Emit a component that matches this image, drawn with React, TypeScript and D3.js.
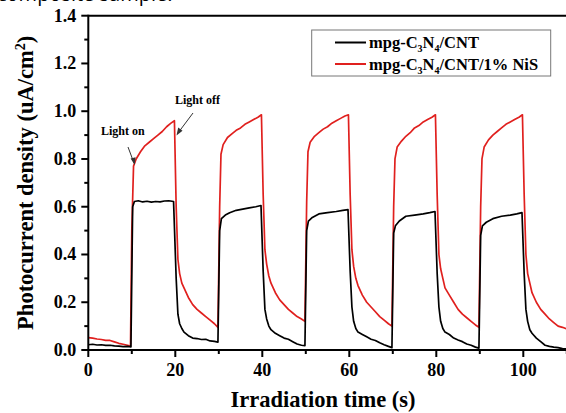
import React from "react";
import * as d3 from "d3";

const xTicks = [0, 20, 40, 60, 80, 100];
const xMinor = [10, 30, 50, 70, 90, 110];
const yTicks = [0, 0.2, 0.4, 0.6, 0.8, 1.0, 1.2, 1.4];
const yMinor = [0.1, 0.3, 0.5, 0.7, 0.9, 1.1, 1.3];

const blackTime = [0,1,2,3,4,5,6,7,8,9,9.8,
  10.2,10.6,11.5,12.5,13.5,14.5,15.5,16.5,17.5,18.5,19.6,
  20.2,20.6,21,21.5,22,23,24,25,26,27,28,29,29.8,
  30.2,30.6,31.5,32.5,34,35.5,37,38.5,39.7,
  40.2,40.6,41,41.5,42,43,44,45,46,47,48,49,49.8,
  50.2,50.6,51.5,53,55,57,58.5,59.7,
  60.2,60.6,61,61.5,62,63,64,65,66,67,68,69,69.8,
  70.2,70.6,71.5,73,75,77,78.5,79.7,
  80.2,80.6,81,81.5,82,83,84,85,86,87,88,89,89.8,
  90.2,90.6,91.5,93,95,97,98.5,99.7,
  100.2,100.6,101,101.5,102,103,104,105,106,107,108,109,110];
const blackValue = [0.022,0.024,0.021,0.022,0.019,0.02,0.017,0.016,0.014,0.015,0.013,
  0.60,0.622,0.625,0.62,0.623,0.619,0.622,0.62,0.624,0.625,0.622,
  0.30,0.15,0.11,0.09,0.075,0.06,0.05,0.048,0.044,0.045,0.038,0.036,0.033,
  0.50,0.55,0.565,0.575,0.585,0.59,0.595,0.6,0.605,
  0.33,0.17,0.13,0.1,0.085,0.07,0.06,0.05,0.045,0.035,0.025,0.02,0.018,
  0.5,0.54,0.555,0.57,0.575,0.58,0.585,0.588,
  0.33,0.18,0.12,0.09,0.075,0.065,0.055,0.045,0.04,0.03,0.022,0.015,0.01,
  0.49,0.52,0.54,0.56,0.565,0.57,0.575,0.58,
  0.32,0.18,0.12,0.09,0.075,0.065,0.05,0.042,0.035,0.025,0.02,0.012,0.008,
  0.48,0.52,0.535,0.55,0.56,0.565,0.57,0.575,
  0.32,0.17,0.12,0.085,0.07,0.05,0.035,0.02,0.015,0.012,0.01,0.006,0.004];

const redTime = [0,1,2,3,4,5,6,7,8,9,9.7,
  10,10.4,11,12,13,14,15,16,17,18,19,19.8,
  20.2,20.6,21,21.5,22,23,24,25,26,27,28,29,29.8,
  30.2,30.5,31,32,33,34,35,36,37,38,39,39.8,
  40.2,40.6,41,41.5,42,43,44,45,46,47,48,49,49.8,
  50.2,50.5,51,52,53,54,55,56,57,58,59,59.8,
  60.2,60.6,61,61.5,62,63,64,65,66,67,68,69,69.8,
  70.2,70.5,71,72,73,74,75,76,77,78,79,79.8,
  80.2,80.6,81,81.5,82,83,84,85,86,87,88,89,89.8,
  90.2,90.5,91,92,93,94,95,96,97,98,99,99.8,
  100.2,100.6,101,101.5,102,103,104,105,106,107,108,109,110];
const redValue = [0.052,0.05,0.046,0.044,0.04,0.04,0.034,0.028,0.024,0.02,0.016,
  0.5,0.77,0.80,0.83,0.855,0.87,0.885,0.9,0.915,0.935,0.95,0.96,
  0.6,0.38,0.32,0.28,0.26,0.22,0.19,0.17,0.155,0.14,0.125,0.11,0.095,
  0.6,0.82,0.86,0.89,0.905,0.92,0.93,0.945,0.955,0.965,0.975,0.985,
  0.65,0.42,0.36,0.31,0.28,0.24,0.21,0.19,0.17,0.155,0.14,0.13,0.12,
  0.62,0.83,0.87,0.895,0.91,0.925,0.935,0.95,0.96,0.97,0.98,0.985,
  0.65,0.42,0.35,0.3,0.27,0.23,0.2,0.18,0.16,0.14,0.125,0.11,0.1,
  0.6,0.8,0.85,0.875,0.895,0.91,0.93,0.94,0.955,0.965,0.975,0.985,
  0.65,0.4,0.34,0.3,0.26,0.23,0.2,0.17,0.15,0.135,0.12,0.105,0.095,
  0.6,0.8,0.85,0.88,0.9,0.915,0.93,0.945,0.955,0.965,0.975,0.985,
  0.65,0.4,0.32,0.28,0.24,0.2,0.17,0.15,0.13,0.115,0.1,0.095,0.088];

const RED = "#e0201e";
const SERIF = "'Liberation Serif', 'Times New Roman', serif";

export default function App() {
  const W = 566, H = 413;
  const x = d3.scaleLinear().domain([0, 110]).range([88.3, 566.8]);
  const y = d3.scaleLinear().domain([0, 1.4]).range([350, 15.7]);
  const line = d3.line<[number, number]>().x(d => x(d[0])).y(d => y(d[1]));
  const blackPts = blackTime.map((t, i) => [t, blackValue[i]] as [number, number]);
  const redPts = redTime.map((t, i) => [t, redValue[i]] as [number, number]);
  const x0 = x(0), y0 = y(0);

  return (
    <svg width={W} height={H} style={{ position: "absolute", left: 0, top: 0, background: "#fff" }}
      fontFamily={SERIF}>
      <rect width={W} height={H} fill="#fff" />
      <text x={-3} y={1} fontFamily="'Open Sans', sans-serif" fontSize={20} fill="#000">composite sample.</text>
      <defs>
        <clipPath id="plot"><rect x={x0} y={y(1.4)} width={x(110) - x0} height={y0 - y(1.4)} /></clipPath>
      </defs>
      <g clipPath="url(#plot)" fill="none" strokeLinejoin="round">
        <path d={line(redPts) || ""} stroke={RED} strokeWidth={1.7} />
        <path d={line(blackPts) || ""} stroke="#000" strokeWidth={1.7} />
      </g>
      <line x1={x0} x2={x(110) + 2} y1={y(1.4)} y2={y(1.4)} stroke="#000" strokeWidth={2} />
      <line x1={x0} x2={x(110) + 2} y1={y0} y2={y0} stroke="#000" strokeWidth={2} />
      <line x1={x0} x2={x0} y1={y(1.4) - 1} y2={y0 + 1} stroke="#000" strokeWidth={2} />
      {xTicks.map(t => (
        <g key={"xt" + t}>
          <line x1={x(t)} x2={x(t)} y1={y0} y2={y0 + 7} stroke="#000" strokeWidth={2} />
          <text x={x(t)} y={y0 + 26} textAnchor="middle" fontSize={18} fontWeight="bold">{t}</text>
        </g>
      ))}
      {xMinor.map(t => (
        <line key={"xm" + t} x1={x(t)} x2={x(t)} y1={y0} y2={y0 + 4} stroke="#000" strokeWidth={2} />
      ))}
      {yTicks.map(t => (
        <g key={"yt" + t}>
          <line x1={x0 - 7} x2={x0} y1={y(t)} y2={y(t)} stroke="#000" strokeWidth={2} />
          <text x={x0 - 12} y={y(t) + 6} textAnchor="end" fontSize={18} fontWeight="bold">{t.toFixed(1)}</text>
        </g>
      ))}
      {yMinor.map(t => (
        <line key={"ym" + t} x1={x0 - 4} x2={x0} y1={y(t)} y2={y(t)} stroke="#000" strokeWidth={2} />
      ))}
      <text x={323} y={407} textAnchor="middle" fontSize={22.5} fontWeight="bold">Irradiation time (s)</text>
      <text transform={`translate(33,${(y0 + y(1.4)) / 2}) rotate(-90)`} textAnchor="middle" fontSize={22.5} fontWeight="bold">
        Photocurrent density (uA/cm<tspan dy={-8} fontSize={14}>2</tspan><tspan dy={8}>)</tspan>
      </text>
      <text x={101} y={135} fontSize={12} fontWeight="bold">Light on</text>
      <line x1={128} y1={147} x2={134} y2={163} stroke="#333" strokeWidth={1} />
      <path d="M134.8,165 L130.6,158.4 L135.6,157.2 Z" fill="#333" />
      <text x={175} y={104} fontSize={12} fontWeight="bold">Light off</text>
      <line x1={193} y1={113} x2={178} y2={133} stroke="#333" strokeWidth={1} />
      <path d="M176.5,135.5 L178.2,127.5 L182.5,130.8 Z" fill="#333" />
      <rect x={311.7} y={30} width={239} height={46} fill="#fff" stroke="#777" strokeWidth={1} />
      {[0, 1].map(i => (
        <g key={"lg" + i}>
          <line x1={335} x2={366} y1={42.5 + i * 21.5} y2={42.5 + i * 21.5} stroke={i === 0 ? "#000" : RED} strokeWidth={2} />
          <text x={369} y={48 + i * 21.5} fontSize={16.5} fontWeight="bold">
            mpg-C<tspan dy={4} fontSize={10}>3</tspan><tspan dy={-4}>N</tspan><tspan dy={4} fontSize={10}>4</tspan><tspan dy={-4}>{i === 0 ? "/CNT" : "/CNT/1% NiS"}</tspan>
          </text>
        </g>
      ))}
    </svg>
  );
}
